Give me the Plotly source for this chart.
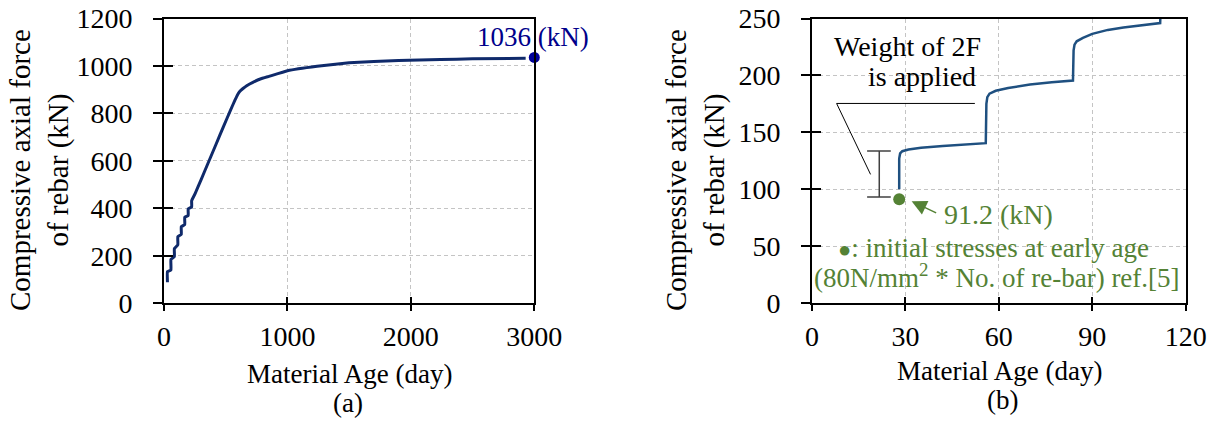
import plotly.graph_objects as go

# ---------------- data ----------------
# Panel (a): long-term compressive axial force of rebar
a_day = [28, 28, 56, 56, 84, 84, 112, 112, 140, 140, 168, 168, 196, 196, 224, 224,
         252, 300, 360, 420, 480, 540, 575, 595, 615, 640, 670, 720, 780, 850, 1000,
         1240, 1500, 1900, 2240, 2500, 2930]
a_force = [88, 133, 140, 185, 196, 230, 246, 280, 290, 322, 332, 362, 370, 398, 406, 432,
           462, 520, 594, 668, 742, 815, 856, 878, 893, 905, 917, 931, 945, 956, 980,
           999, 1013, 1023, 1027, 1030, 1032]
a_final_day = [3000]
a_final_force = [1036]

# Panel (b): early age (first 120 days)
b_day = [28, 28, 28.3, 29, 31, 35, 42, 49, 55.8, 56, 56.3, 57, 59, 63, 70, 77, 83.8,
         84, 84.3, 85, 87, 90, 95, 100, 106, 111.8, 112]
b_force = [100, 127, 131.5, 133.5, 135, 136.5, 138, 139, 140.5, 175, 181, 184, 186.5,
           189, 192, 194, 195.5, 222, 227, 230, 233, 236.5, 240, 242, 244, 246, 262]
b_init_day = [28]
b_init_force = [91.2]

a_xticks = [0, 1000, 2000, 3000]
a_yticks = [0, 200, 400, 600, 800, 1000, 1200]
b_xticks = [0, 30, 60, 90, 120]
b_yticks = [0, 50, 100, 150, 200, 250]

# ---------------- styling ----------------
W, H = 1217, 421
FONT = "Liberation Serif"
GREEN = "#548235"
NAVY = "#00008B"
GRID = "#C4C4C4"


def px(x):
    return x / W


def py(y):
    return (H - y) / H


XA_DOM = [px(164), px(534.3)]
XB_DOM = [px(812), px(1185.7)]
Y_DOM = [py(303.2), py(18.5)]

fig = go.Figure()

fig.add_trace(go.Scatter(x=a_day, y=a_force, mode="lines",
                         line=dict(color="#0F2A6B", width=3, shape="spline", smoothing=0.3),
                         xaxis="x", yaxis="y", showlegend=False))
fig.add_trace(go.Scatter(x=a_final_day, y=a_final_force, mode="markers",
                         marker=dict(color="#00009A", size=11),
                         xaxis="x", yaxis="y", showlegend=False, cliponaxis=False))
fig.add_trace(go.Scatter(x=b_day, y=b_force, mode="lines",
                         line=dict(color="#1F5080", width=2.5),
                         xaxis="x2", yaxis="y2", showlegend=False))
fig.add_trace(go.Scatter(x=b_init_day, y=b_init_force, mode="markers",
                         marker=dict(color=GREEN, size=12),
                         xaxis="x2", yaxis="y2", showlegend=False, cliponaxis=False))

tickfont = dict(family=FONT, size=28, color="black")


def main_x(dom, rng, vals, anchor):
    return dict(domain=dom, range=rng, tickvals=vals, ticks="outside", ticklen=6,
                tickwidth=2, tickcolor="black", showline=True, linewidth=2,
                linecolor="black", mirror=True, showgrid=True, gridcolor=GRID,
                gridwidth=1, griddash="4px,3px", zeroline=False, tickfont=tickfont,
                anchor=anchor, automargin=False, ticklabelstandoff=1,
                ticklabeloverflow="allow", fixedrange=True)


def main_y(dom, rng, vals, anchor):
    return dict(domain=dom, range=rng, tickvals=vals, ticks="outside", ticklen=9,
                tickwidth=2, tickcolor="black", showline=True, linewidth=2,
                linecolor="black", mirror=True, showgrid=True, gridcolor=GRID,
                gridwidth=1, griddash="4px,3px", zeroline=False, tickfont=tickfont,
                anchor=anchor, automargin=False, ticklabelstandoff=15,
                ticklabeloverflow="allow", fixedrange=True)


def inner_x(over, rng, vals, anchor):
    return dict(overlaying=over, range=rng, tickvals=vals, ticks="inside", ticklen=6,
                tickwidth=2, tickcolor="black", showticklabels=False, showline=False,
                showgrid=False, zeroline=False, anchor=anchor, fixedrange=True)


def inner_y(over, rng, vals, anchor):
    return dict(overlaying=over, range=rng, tickvals=vals, ticks="inside", ticklen=9,
                tickwidth=2, tickcolor="black", showticklabels=False, showline=False,
                showgrid=False, zeroline=False, anchor=anchor, fixedrange=True)


A_XR = [0, 3000]
A_YR = [0, 1200]
B_XR = [0, 120]
B_YR = [0, 250]

# invisible traces so the inside-tick overlay axes get drawn
fig.add_trace(go.Scatter(x=[None], y=[None], xaxis="x3", yaxis="y3", showlegend=False,
                         hoverinfo="skip"))
fig.add_trace(go.Scatter(x=[None], y=[None], xaxis="x4", yaxis="y4", showlegend=False,
                         hoverinfo="skip"))

fig.update_layout(
    width=W, height=H,
    margin=dict(l=0, r=0, t=0, b=0),
    paper_bgcolor="white", plot_bgcolor="white",
    font=dict(family=FONT, color="black"),
    xaxis=main_x(XA_DOM, A_XR, a_xticks, "y"),
    yaxis=main_y(Y_DOM, A_YR, a_yticks, "x"),
    xaxis2=main_x(XB_DOM, B_XR, b_xticks, "y2"),
    yaxis2=main_y(Y_DOM, B_YR, b_yticks, "x2"),
    xaxis3=dict(inner_x("x", A_XR, a_xticks, "y3"), domain=XA_DOM),
    yaxis3=dict(inner_y("y", A_YR, a_yticks, "x3"), domain=Y_DOM),
    xaxis4=dict(inner_x("x2", B_XR, b_xticks, "y4"), domain=XB_DOM),
    yaxis4=dict(inner_y("y2", B_YR, b_yticks, "x4"), domain=Y_DOM),
    showlegend=False,
)

ann = []
title_font = dict(family=FONT, size=27, color="black")
ytitle_font = dict(family=FONT, size=29, color="black")
# y axis titles
ann.append(dict(text="Compressive axial force<br>of rebar (kN)", textangle=-90,
                x=px(39), y=py(170), xref="paper", yref="paper",
                xanchor="center", yanchor="middle", showarrow=False, font=ytitle_font))
ann.append(dict(text="Compressive axial force<br>of rebar (kN)", textangle=-90,
                x=px(695), y=py(170), xref="paper", yref="paper",
                xanchor="center", yanchor="middle", showarrow=False, font=ytitle_font))
# x axis titles and panel labels
ann.append(dict(text="Material Age (day)", x=px(349), y=py(374), xref="paper", yref="paper",
                xanchor="center", yanchor="middle", showarrow=False, font=title_font))
ann.append(dict(text="(a)", x=px(348), y=py(403), xref="paper", yref="paper",
                xanchor="center", yanchor="middle", showarrow=False, font=title_font))
ann.append(dict(text="Material Age (day)", x=px(999), y=py(371), xref="paper", yref="paper",
                xanchor="center", yanchor="middle", showarrow=False, font=title_font))
ann.append(dict(text="(b)", x=px(1002), y=py(400), xref="paper", yref="paper",
                xanchor="center", yanchor="middle", showarrow=False, font=title_font))
# panel (a) value label
ann.append(dict(text="1036 (kN)", x=px(533), y=py(37), xref="paper", yref="paper",
                xanchor="center", yanchor="middle", showarrow=False,
                font=dict(family=FONT, size=27, color=NAVY)))
# panel (b) texts
note_font = dict(family=FONT, size=28, color="black")
ann.append(dict(text="Weight of 2F", x=px(907.5), y=py(46), xref="paper", yref="paper",
                xanchor="center", yanchor="middle", showarrow=False, font=note_font))
ann.append(dict(text="is applied", x=px(921.5), y=py(76), xref="paper", yref="paper",
                xanchor="center", yanchor="middle", showarrow=False, font=note_font))
gfont = dict(family=FONT, size=28, color=GREEN)
ann.append(dict(text="91.2 (kN)", x=px(942), y=py(214), xref="paper", yref="paper",
                xanchor="left", yanchor="middle", showarrow=False, font=gfont))
gfont2 = dict(family=FONT, size=27, color=GREEN)
ann.append(dict(text='<span style="font-size:22px">●</span>: initial stresses at early age',
                x=px(993), y=py(248), xref="paper", yref="paper",
                xanchor="center", yanchor="middle", showarrow=False, font=gfont2))
ann.append(dict(text="(80N/mm<sup>2</sup> * No. of re-bar) ref.[5]",
                x=px(997), y=py(276), xref="paper", yref="paper",
                xanchor="center", yanchor="middle", showarrow=False, font=gfont2))
# green arrow pointing at the initial-stress marker
ann.append(dict(text="", x=32.0, y=89.6, xref="x2", yref="y2",
                ax=26, ay=12.5, axref="pixel", ayref="pixel",
                showarrow=True, arrowhead=2, arrowsize=2, arrowwidth=1.5,
                arrowcolor=GREEN))
fig.update_layout(annotations=ann)

# leader line and bracket in panel (b)
shapes = [
    dict(type="line", xref="x2", yref="y2", x0=7.9, y0=175.4, x1=52.3, y1=175.4,
         line=dict(color="black", width=1)),
    dict(type="line", xref="x2", yref="y2", x0=7.9, y0=175.4, x1=18.8, y1=113.1,
         line=dict(color="black", width=1)),
    dict(type="line", xref="x2", yref="y2", x0=21.6, y0=93.2, x1=21.6, y1=133.6,
         line=dict(color="#404040", width=1.5)),
    dict(type="line", xref="x2", yref="y2", x0=17.7, y0=133.6, x1=25.3, y1=133.6,
         line=dict(color="#404040", width=1.5)),
    dict(type="line", xref="x2", yref="y2", x0=17.7, y0=93.2, x1=25.3, y1=93.2,
         line=dict(color="#404040", width=1.5)),
]
fig.update_layout(shapes=shapes)

fig.write_html("out.html",
               config={"displayModeBar": False},
               post_script="document.body.style.margin='0';document.body.style.overflow='hidden';")
